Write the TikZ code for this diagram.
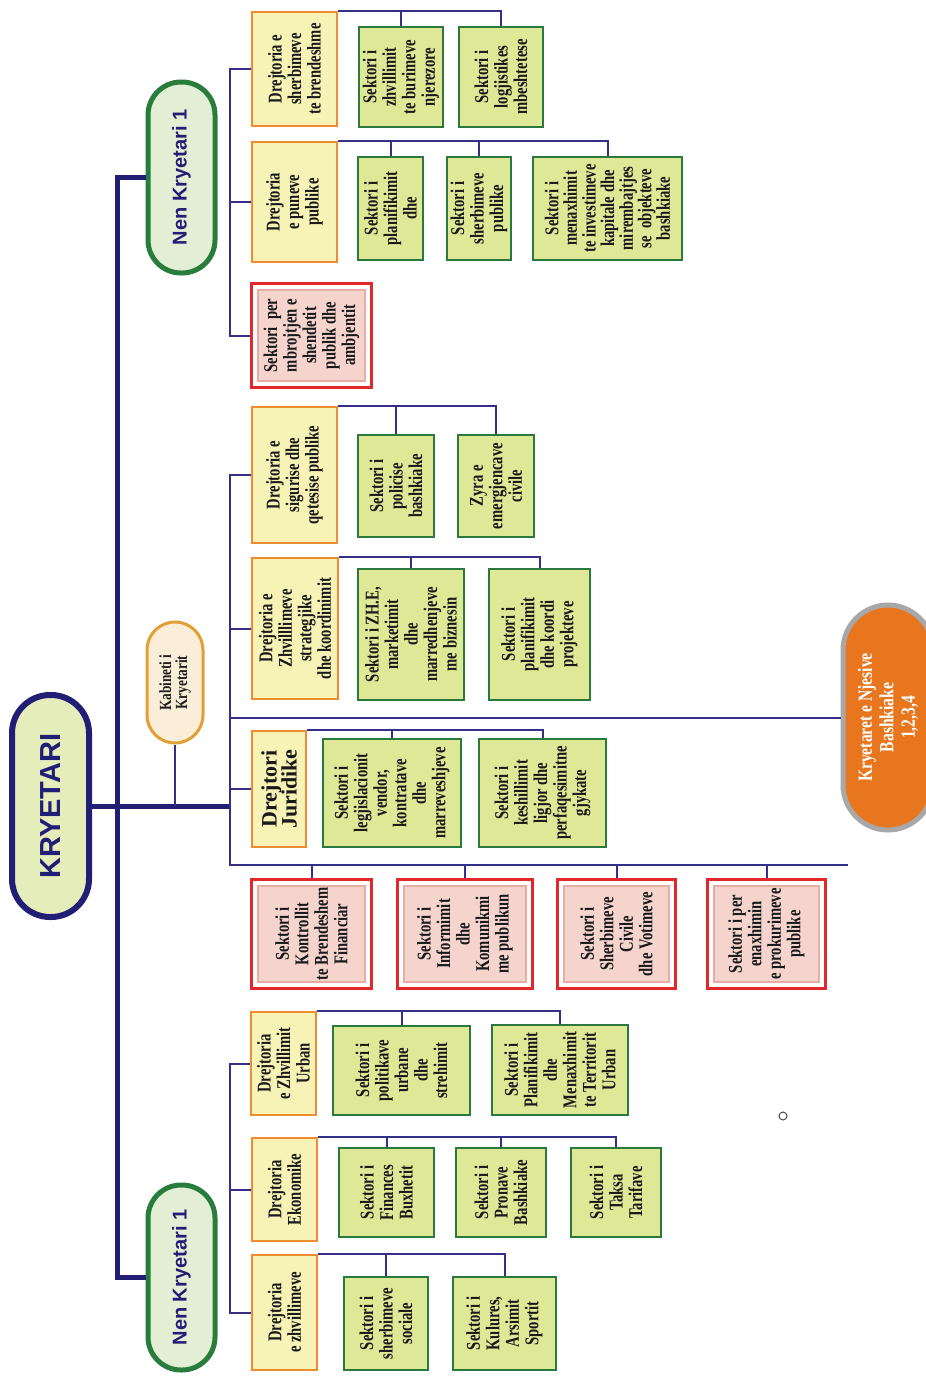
\documentclass[tikz,border=0pt]{standalone}
\usepackage{fontspec}
\setmainfont{Liberation Serif}
\newfontfamily\condfont{Liberation Serif}[FakeStretch=0.75]
\newfontfamily\kabfont{Liberation Serif}[FakeStretch=0.78]
\newfontfamily\headfont{Liberation Sans}
\usetikzlibrary{fit}
\definecolor{navy}{RGB}{34,30,118}
\definecolor{navyT}{RGB}{52,48,135}
\definecolor{orB}{RGB}{240,140,48}
\definecolor{yelF}{RGB}{247,242,182}
\definecolor{grB}{RGB}{42,122,62}
\definecolor{limeF}{RGB}{222,232,150}
\definecolor{redB}{RGB}{226,40,42}
\definecolor{pinkF}{RGB}{245,212,206}
\definecolor{pinkB}{RGB}{232,172,166}
\definecolor{nkB}{RGB}{40,125,60}
\definecolor{nkF}{RGB}{226,239,212}
\definecolor{kryF}{RGB}{229,238,186}
\definecolor{kabB}{RGB}{226,160,52}
\definecolor{kabF}{RGB}{250,238,216}
\definecolor{krF}{RGB}{232,118,30}
\definecolor{krB}{RGB}{168,168,168}
\newcommand\boxat[7]{\node[#1, minimum width={#6-#4}, minimum height={#5-#3}] (#2) at ({(#3+#5)/2},{(#4+#6)/2}) {#7};}
\newcommand\redat[6]{\node[redin, minimum width={#5-#3-14}, minimum height={#4-#2-14}] (#1) at ({(#2+#4)/2},{(#3+#5)/2}) {#6};
\node[redout, fit=(#1), inner sep=6pt] (#1f) {};}
\begin{document}
\begin{tikzpicture}[x=1pt,y=-1pt,
  conn/.style={draw=navyT, line width=2},
  mainline/.style={draw=navy, line width=5},
  txtbase/.style={rotate=90, align=center, inner sep=0pt, text=black!90,
    font=\condfont\bfseries\fontsize{19.5}{19.5}\selectfont},
  dirbox/.style={txtbase, draw=orB, fill=yelF, line width=2.5},
  secbox/.style={txtbase, draw=grB, fill=limeF, line width=2.5},
  redin/.style={txtbase, draw=pinkB, fill=pinkF, line width=1.2},
  redout/.style={draw=redB, line width=2.5},
  nkbox/.style={rotate=90, align=center, inner sep=0pt, draw=nkB, fill=nkF,
    line width=5, rounded corners=33, text=navy,
    font=\headfont\bfseries\fontsize{20}{22}\selectfont}]
\useasboundingbox (0,0) rectangle (926,1379);
\clip (0,0) rectangle (926,1379);
\fill[white] (0,0) rectangle (926,1379);
\coordinate (s0) at (117,0);
\coordinate (s1) at (230,0);
\coordinate (busL) at (230,865);
\coordinate (busR) at (848,865);

% top-level nodes
\node[rotate=90, align=center, inner sep=0pt, draw=navy, fill=kryF, line width=6,
  rounded corners=38, minimum width=222, minimum height=77, text=navy,
  font=\headfont\bfseries\fontsize{29}{31}\selectfont] (kry) at (50.5,806) {KRYETARI};
\node[nkbox, minimum width=191, minimum height=67] (nk1) at (181.5,177.5) {Nen Kryetari 1};
\node[nkbox, minimum width=185, minimum height=67] (nk2) at (181.5,1277.5) {Nen Kryetari 1};
\node[rotate=90, align=center, inner sep=0pt, draw=kabB, fill=kabF, line width=3,
  rounded corners=28, minimum width=121, minimum height=56, text=black!88,
  font=\kabfont\bfseries\fontsize{17}{16}\selectfont] (kab) at (175,682.5) {Kabineti i\\Kryetarit};
\node[rotate=90, align=center, inner sep=0pt, draw=krB, fill=krF, line width=5,
  rounded corners=45, minimum width=225, minimum height=90, text=white,
  font=\kabfont\bfseries\fontsize{20}{21.5}\selectfont] (kr) at (888,717.5) {Kryetaret e Njesive\\Bashkiake\\1,2,3,4};

% top group
\boxat{dirbox}{d1}{252}{12}{337}{126}{Drejtoria e\\sherbimeve\\te brendeshme}
\boxat{secbox}{s11}{359}{27}{443}{127}{Sektori i\\zhvillimit\\te burimeve\\njerezore}
\boxat{secbox}{s12}{459}{27}{543}{127}{Sektori i\\logjistikes\\mbeshtetese}
\boxat{dirbox}{d2}{252}{142}{337}{262}{Drejtoria\\e puneve\\publike}
\boxat{secbox}{s21}{358}{157}{423}{260}{Sektori i\\planifikimit\\dhe}
\boxat{secbox}{s22}{447}{157}{511}{260}{Sektori i\\sherbimeve\\publike}
\boxat{secbox,font=\condfont\bfseries\fontsize{19.5}{18.6}\selectfont}{s23}{533}{157}{682}{260}{Sektori i\\menaxhimit\\te investimeve\\kapitale dhe\\mirembajtjes\\se\ \ objekteve\\bashkiake}
\redat{r0}{251}{283}{372}{388}{Sektori\ \ per\\mbrojtjen e\\shendetit\\publik dhe\\ambjentit}

% middle group
\boxat{dirbox}{d3}{252}{407}{337}{543}{Drejtoria e\\sigurise dhe\\qetesise publike}
\boxat{secbox}{s31}{358}{435}{434}{537}{Sektori i\\policise\\bashkiake}
\boxat{secbox}{s32}{458}{435}{534}{537}{Zyra e\\emergjencave\\civile}
\boxat{dirbox}{d4}{252}{558}{338}{699}{Drejtoria e\\Zhvilllimeve\\strategjike\\dhe koordinimit}
\boxat{secbox}{s41}{358}{569}{464}{700}{Sektori i ZH.E,\\marketimit\\dhe\\marredhenjeve\\me biznesin}
\boxat{secbox}{s42}{489}{569}{590}{700}{Sektori i\\planifikimit\\dhe koordi\\projekteve}
\boxat{dirbox,font=\bfseries\fontsize{22}{20}\selectfont}{d5}{252}{731}{306}{847}{Drejtori\\Juridike}
\boxat{secbox}{s51}{323}{739}{461}{847}{Sektori i\\legjislacionit\\vendor,\\kontratave\\dhe\\marreveshjeve}
\boxat{secbox}{s52}{479}{739}{606}{847}{Sektori i\\keshillimit\\ligjor dhe\\perfaqesimitne\\gjykate}
\redat{r1}{251}{879}{372}{989}{Sektori i\\Kontrollit\\te Brendeshem\\Financiar}
\redat{r2}{397}{879}{533}{989}{Sektori i\\Informimit\\dhe\\Komunikmi\\me publikun}
\redat{r3}{557}{879}{676}{989}{Sektori i\\Sherbimeve\\Civile\\dhe Votimeve}
\redat{r4}{707}{879}{826}{989}{Sektori i per\\enaxhimin\\e prokurimeve\\publike}

% bottom group
\boxat{dirbox}{d6}{251}{1012}{316}{1115}{Drejtoria\\e Zhvillimit\\Urban}
\boxat{secbox}{s61}{333}{1026}{470}{1115}{Sektori i\\politikave\\urbane\\dhe\\strehimit}
\boxat{secbox}{s62}{492}{1025}{628}{1115}{Sektori i\\Planifikimit\\dhe\\Menaxhimit\\te Territorit\\Urban}
\boxat{dirbox}{d7}{252}{1138}{317}{1241}{Drejtoria\\Ekonomike}
\boxat{secbox}{s71}{339}{1148}{434}{1237}{Sektori i\\Finances\\Buxhetit}
\boxat{secbox}{s72}{456}{1148}{546}{1237}{Sektori i\\Pronave\\Bashkiake}
\boxat{secbox}{s73}{571}{1148}{661}{1237}{Sektori i\\Taksa\\Tarifave}
\boxat{dirbox}{d8}{252}{1255}{317}{1370}{Drejtoria\\e zhvillimeve}
\boxat{secbox}{s81}{344}{1277}{428}{1370}{Sektori i\\sherbimeve\\sociale}
\boxat{secbox}{s82}{453}{1277}{556}{1370}{Sektori i\\Kulures,\\Arsimit\\Sportit}

\node[circle, draw=black!70, line width=1, minimum size=8, inner sep=0pt] (dot) at (783,1116) {};

% thick connectors
\draw[mainline] (nk1.north) -- (nk1.north -| s0) -- (nk2.north -| s0) -- (nk2.north);
\draw[mainline] (kry.south) -- (kry.south -| s1);
\draw[conn] (kab.west) -- (kab.west |- kry.south);

% top group connectors
\draw[conn] (d1.north) -- (d1.north -| s1) -- (r0f.west -| s1) -- (r0f.west);
\draw[conn] (d2.north) -- (d2.north -| s1);
\draw[conn] (d1.south east) -| (s12.east);
\draw[conn] (s11.east) -- (s11.east |- d1.south east);
\draw[conn] (d2.south east) -| (s23.east);
\draw[conn] (s21.east) -- (s21.east |- d2.south east);
\draw[conn] (s22.east) -- (s22.east |- d2.south east);

% middle group connectors
\draw[conn] (d3.north) -- (d3.north -| s1) -- (busL) -- (busR);
\draw[conn] (d4.north) -- (d4.north -| s1);
\draw[conn] (d5.north) -- (d5.north -| s1);
\draw[conn] (kr.north -| s1) -- (kr.north);
\draw[conn] (d3.south east) -| (s32.east);
\draw[conn] (s31.east) -- (s31.east |- d3.south east);
\draw[conn] (d4.south east) -| (s42.east);
\draw[conn] (s41.east) -- (s41.east |- d4.south east);
\draw[conn] (d5.south east) -| (s52.east);
\draw[conn] (s51.east) -- (s51.east |- d5.south east);
\draw[conn] (r1f.north) -- (r1f.north |- busL);
\draw[conn] (r2f.north) -- (r2f.north |- busL);
\draw[conn] (r3f.north) -- (r3f.north |- busL);
\draw[conn] (r4f.north) -- (r4f.north |- busL);

% bottom group connectors
\draw[conn] (d6.north) -- (d6.north -| s1) -- (d8.north -| s1) -- (d8.north);
\draw[conn] (d7.north) -- (d7.north -| s1);
\draw[conn] (d6.south east) -| (s62.east);
\draw[conn] (s61.east) -- (s61.east |- d6.south east);
\draw[conn] (d7.south east) -| (s73.east);
\draw[conn] (s71.east) -- (s71.east |- d7.south east);
\draw[conn] (s72.east) -- (s72.east |- d7.south east);
\draw[conn] (d8.south east) -| (s82.east);
\draw[conn] (s81.east) -- (s81.east |- d8.south east);
\end{tikzpicture}
\end{document}
